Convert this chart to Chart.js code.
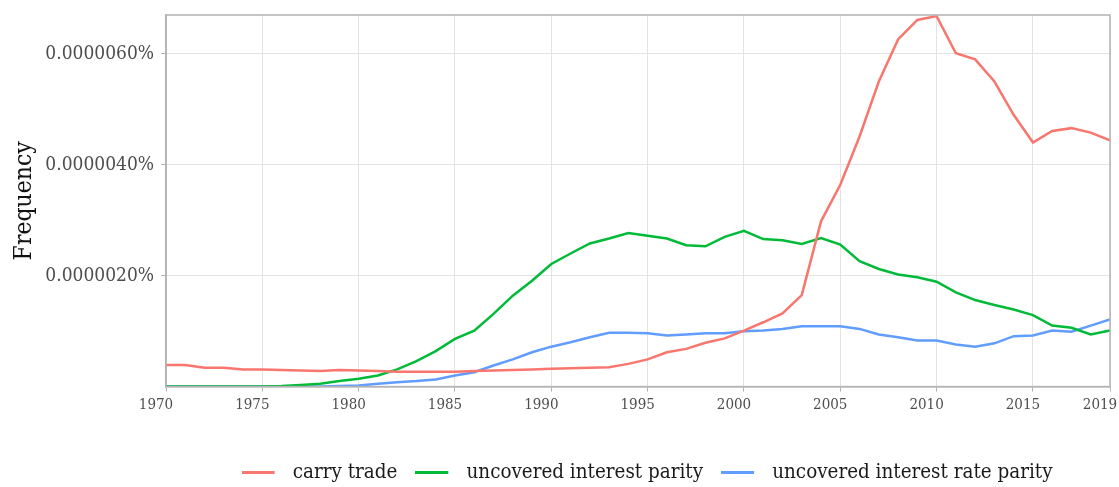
<!DOCTYPE html>
<html>
<head>
<meta charset="utf-8">
<script src="https://cdn.jsdelivr.net/npm/chart.js@4"></script>
<style>
  html, body { margin: 0; padding: 0; background: #fff; }
  #wrap { width: 1119px; height: 487px; }
</style>
</head>
<body>
<div id="wrap"><canvas id="chart"></canvas></div>
<script>
const years = [1970,1971,1972,1973,1974,1975,1976,1977,1978,1979,
  1980,1981,1982,1983,1984,1985,1986,1987,1988,1989,
  1990,1991,1992,1993,1994,1995,1996,1997,1998,1999,
  2000,2001,2002,2003,2004,2005,2006,2007,2008,2009,
  2010,2011,2012,2013,2014,2015,2016,2017,2018,2019];

// values in percent
const carryTrade = [0.39e-6,0.39e-6,0.34e-6,0.34e-6,0.31e-6,0.31e-6,0.30e-6,0.29e-6,0.28e-6,0.30e-6,
  0.29e-6,0.28e-6,0.27e-6,0.27e-6,0.27e-6,0.27e-6,0.28e-6,0.29e-6,0.30e-6,0.31e-6,
  0.32e-6,0.33e-6,0.34e-6,0.35e-6,0.41e-6,0.49e-6,0.62e-6,0.68e-6,0.79e-6,0.87e-6,
  1.01e-6,1.16e-6,1.32e-6,1.65e-6,2.98e-6,3.64e-6,4.51e-6,5.50e-6,6.26e-6,6.61e-6,
  6.68e-6,6.01e-6,5.90e-6,5.50e-6,4.90e-6,4.40e-6,4.61e-6,4.66e-6,4.58e-6,4.44e-6];

const uncoveredInterestParity = [0,0,0,0,0,0,0.01e-6,0.03e-6,0.05e-6,0.10e-6,
  0.14e-6,0.20e-6,0.31e-6,0.46e-6,0.64e-6,0.86e-6,1.01e-6,1.31e-6,1.64e-6,1.91e-6,
  2.21e-6,2.40e-6,2.58e-6,2.67e-6,2.77e-6,2.72e-6,2.67e-6,2.55e-6,2.53e-6,2.70e-6,
  2.81e-6,2.66e-6,2.64e-6,2.57e-6,2.68e-6,2.56e-6,2.26e-6,2.12e-6,2.02e-6,1.97e-6,
  1.89e-6,1.70e-6,1.56e-6,1.47e-6,1.39e-6,1.29e-6,1.10e-6,1.06e-6,0.94e-6,1.01e-6];

const uncoveredInterestRateParity = [0,0,0,0,0,0,0,0,0,0.01e-6,
  0.02e-6,0.05e-6,0.08e-6,0.10e-6,0.13e-6,0.20e-6,0.26e-6,0.38e-6,0.49e-6,0.62e-6,
  0.72e-6,0.80e-6,0.89e-6,0.97e-6,0.97e-6,0.96e-6,0.92e-6,0.94e-6,0.96e-6,0.96e-6,
  1.00e-6,1.01e-6,1.04e-6,1.09e-6,1.09e-6,1.09e-6,1.04e-6,0.94e-6,0.89e-6,0.83e-6,
  0.83e-6,0.76e-6,0.72e-6,0.78e-6,0.91e-6,0.92e-6,1.01e-6,0.99e-6,1.10e-6,1.21e-6];

const xTicks = [1970,1975,1980,1985,1990,1995,2000,2005,2010,2015,2019];
const yTicks = [2e-6,4e-6,6e-6];

const serif = "'DejaVu Serif Condensed', 'DejaVu Serif', serif";

// legend key: short line with some empty room after it
function keyLine(color) {
  const c = document.createElement('canvas');
  c.width = 41; c.height = 3;
  const g = c.getContext('2d');
  g.fillStyle = color;
  g.fillRect(0, 0, 33, 3);
  return c;
}

// grey frame round the plot panel, legend nudged under it
const panelBorder = {
  id: 'panelBorder',
  afterLayout(chart) {
    const lg = chart.legend;
    lg.left += 9; lg.right += 9;
    lg.top += 6; lg.bottom += 6;
  },
  afterDraw(chart) {
    const a = chart.chartArea, c = chart.ctx;
    c.save();
    c.strokeStyle = '#b3b3b3';
    c.lineWidth = 1.5;
    c.strokeRect(a.left, a.top, a.right - a.left, a.bottom - a.top);
    c.restore();
  }
};

const ctx = document.getElementById('chart').getContext('2d');
new Chart(ctx, {
  type: 'line',
  data: {
    labels: years,
    datasets: [
      { label: 'carry trade', data: carryTrade, borderColor: '#F8766D', backgroundColor: '#F8766D', pointStyle: keyLine('#F8766D') },
      { label: 'uncovered interest parity', data: uncoveredInterestParity, borderColor: '#00BA38', backgroundColor: '#00BA38', pointStyle: keyLine('#00BA38') },
      { label: 'uncovered interest rate parity', data: uncoveredInterestRateParity, borderColor: '#619CFF', backgroundColor: '#619CFF', pointStyle: keyLine('#619CFF') }
    ]
  },
  options: {
    responsive: true,
    maintainAspectRatio: false,
    animation: false,
    layout: { padding: { top: 15, right: 9, bottom: 0, left: 0 } },
    elements: {
      line: { borderWidth: 2.5, tension: 0 },
      point: { radius: 0 }
    },
    scales: {
      x: {
        type: 'linear',
        min: 1970, max: 2019,
        afterBuildTicks: s => { s.ticks = xTicks.map(v => ({ value: v })); },
        afterFit: s => { s.height = 52; s.paddingLeft = 0; s.paddingRight = 0; },
        grid: { color: '#e3e3e3', tickColor: '#b3b3b3', tickLength: 5 },
        border: { color: '#b3b3b3', width: 1.5 },
        ticks: {
          color: '#4d4d4d', font: { family: serif, size: 15 },
          maxRotation: 0, autoSkip: false, padding: 5, labelOffset: -10,
          callback: v => String(v)
        }
      },
      y: {
        min: 0, max: 6.7e-6,
        afterBuildTicks: s => { s.ticks = yTicks.map(v => ({ value: v })); },
        afterFit: s => { s.width = 166; s.paddingTop = 0; s.paddingBottom = 0; },
        grid: { color: '#e3e3e3', tickColor: '#b3b3b3', tickLength: 5 },
        border: { color: '#b3b3b3', width: 1.5 },
        ticks: {
          color: '#4d4d4d', font: { family: serif, size: 19 }, padding: 7,
          callback: v => v.toFixed(7) + '%'
        },
        title: {
          display: true, text: 'Frequency', color: '#111',
          font: { family: serif, size: 24.5 }, padding: { top: 10, bottom: 0 }
        }
      }
    },
    plugins: {
      legend: {
        position: 'bottom',
        fullSize: false,
        labels: {
          color: '#1a1a1a', font: { family: serif, size: 20.4 },
          usePointStyle: true, pointStyleWidth: 41, boxHeight: 3, padding: 18
        }
      },
      tooltip: { enabled: false }
    }
  },
  plugins: [panelBorder]
});
</script>
</body>
</html>
